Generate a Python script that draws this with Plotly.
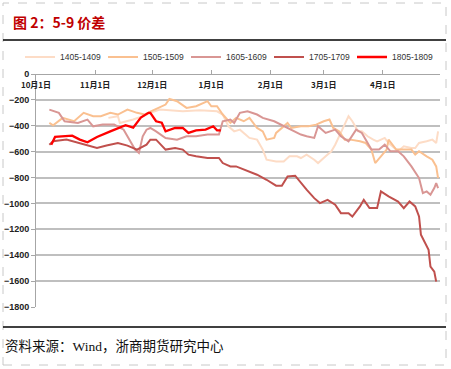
import plotly.graph_objects as go

series_names = ["1405-1409", "1505-1509", "1605-1609", "1705-1709", "1805-1809"]
series_colors = ["#fddcc6", "#fac090", "#d99694", "#c0504d", "#ff0000"]

d1405 = ["2018-11-08","2018-11-13","2018-11-14","2018-11-21","2018-11-26","2018-11-30","2018-12-05","2018-12-10",
         "2018-12-17","2018-12-26","2019-01-04","2019-01-07","2019-01-10","2019-01-13","2019-01-16","2019-01-21",
         "2019-01-25","2019-01-28","2019-01-30","2019-02-04","2019-02-08","2019-02-11","2019-02-15","2019-02-17",
         "2019-02-20","2019-02-24","2019-02-26","2019-03-02","2019-03-05","2019-03-07","2019-03-09","2019-03-12",
         "2019-03-14","2019-03-16","2019-03-19","2019-03-21","2019-03-24","2019-03-27","2019-03-29","2019-04-02",
         "2019-04-04","2019-04-08","2019-04-09","2019-04-12","2019-04-16","2019-04-18","2019-04-20","2019-04-24",
         "2019-04-27","2019-04-29","2019-04-30"]
v1405 = [-339,-326,-378,-352,-326,-300,-275,-280,-288,-280,-288,-313,-404,-443,-430,-494,
         -507,-584,-662,-675,-675,-636,-636,-649,-623,-662,-688,-636,-597,-546,-481,-391,
         -326,-365,-443,-443,-481,-507,-520,-494,-533,-584,-597,-559,-572,-572,-533,-520,
         -507,-533,-443]

d1505 = ["2018-10-08","2018-10-10","2018-10-15","2018-10-21","2018-10-26","2018-10-31","2018-11-04","2018-11-09",
         "2018-11-13","2018-11-18","2018-11-23","2018-11-27","2018-11-30","2018-12-04","2018-12-08","2018-12-10",
         "2018-12-14","2018-12-19","2018-12-24","2018-12-30","2019-01-01","2019-01-04","2019-01-07","2019-01-11",
         "2019-01-14","2019-01-18","2019-01-21","2019-01-25","2019-01-28","2019-01-30","2019-02-03","2019-02-04",
         "2019-02-08","2019-02-10","2019-02-12","2019-02-17","2019-02-21","2019-02-25","2019-03-01","2019-03-04",
         "2019-03-06","2019-03-09","2019-03-12","2019-03-15","2019-03-20","2019-03-23","2019-03-26","2019-03-28",
         "2019-03-31","2019-04-03","2019-04-04","2019-04-08","2019-04-12","2019-04-16","2019-04-18","2019-04-20",
         "2019-04-24","2019-04-27","2019-04-29","2019-04-30"]
v1505 = [-378,-396,-339,-365,-300,-326,-326,-300,-313,-275,-300,-313,-290,-262,-236,-192,
         -210,-262,-249,-210,-249,-249,-313,-378,-339,-365,-339,-417,-443,-507,-494,-455,
         -404,-378,-417,-404,-404,-391,-365,-352,-417,-443,-507,-507,-520,-533,-584,-688,
         -636,-584,-507,-584,-584,-584,-623,-597,-636,-662,-714,-804]

d1605 = ["2018-10-08","2018-10-13","2018-10-16","2018-10-23","2018-10-28","2018-10-31","2018-11-05","2018-11-11",
         "2018-11-16","2018-11-19","2018-11-22","2018-11-24","2018-11-26","2018-11-28","2018-11-30","2018-12-03",
         "2018-12-08","2018-12-14","2018-12-19","2018-12-24","2018-12-30","2019-01-05","2019-01-07","2019-01-11",
         "2019-01-13","2019-01-16","2019-01-20","2019-01-25","2019-01-28","2019-02-03","2019-02-08","2019-02-13",
         "2019-02-17","2019-02-20","2019-02-24","2019-02-26","2019-03-02","2019-03-07","2019-03-10","2019-03-14",
         "2019-03-18","2019-03-21","2019-03-26","2019-03-30","2019-04-02","2019-04-05","2019-04-09","2019-04-12",
         "2019-04-16","2019-04-20","2019-04-22","2019-04-24","2019-04-26","2019-04-28","2019-04-29","2019-04-30"]
v1605 = [-275,-300,-365,-378,-352,-404,-391,-391,-430,-507,-584,-610,-481,-430,-417,-443,
         -494,-507,-481,-481,-468,-468,-365,-352,-378,-300,-288,-313,-339,-365,-404,-443,
         -468,-481,-494,-404,-455,-430,-481,-520,-430,-455,-584,-584,-546,-597,-597,-636,
         -714,-804,-920,-907,-933,-881,-843,-881]

d1705 = ["2018-10-08","2018-10-10","2018-10-17","2018-10-23","2018-10-28","2018-11-02","2018-11-07","2018-11-13",
         "2018-11-18","2018-11-23","2018-11-28","2018-11-30","2018-12-03","2018-12-08","2018-12-13","2018-12-17",
         "2018-12-20","2018-12-24","2018-12-30","2019-01-05","2019-01-07","2019-01-11","2019-01-14","2019-01-20",
         "2019-01-25","2019-01-30","2019-02-04","2019-02-07","2019-02-10","2019-02-14","2019-02-17","2019-02-20",
         "2019-02-24","2019-02-27","2019-03-03","2019-03-07","2019-03-10","2019-03-14","2019-03-16","2019-03-20",
         "2019-03-22","2019-03-25","2019-03-29","2019-03-31","2019-04-04","2019-04-09","2019-04-12","2019-04-15",
         "2019-04-18","2019-04-20","2019-04-21","2019-04-25","2019-04-26","2019-04-28","2019-04-29"]
v1705 = [-546,-520,-507,-533,-553,-572,-553,-533,-553,-584,-546,-507,-507,-584,-572,-584,
         -623,-636,-649,-649,-688,-714,-714,-752,-778,-817,-863,-863,-791,-786,-843,-894,
         -959,-997,-972,-1010,-1075,-1075,-1101,-1023,-972,-1036,-1036,-907,-946,-985,-1036,-985,
         -1023,-1101,-1242,-1358,-1488,-1527,-1604]

d1805 = ["2018-10-09","2018-10-11","2018-10-20","2018-10-24","2018-10-28","2018-11-02","2018-11-09","2018-11-17",
         "2018-11-21","2018-11-25","2018-11-29","2018-11-30","2018-12-03","2018-12-06","2018-12-08","2018-12-13",
         "2018-12-17","2018-12-20","2018-12-24","2018-12-29","2019-01-02","2019-01-04","2019-01-06"]
v1805 = [-546,-486,-476,-507,-528,-486,-443,-396,-414,-337,-300,-300,-365,-376,-443,-417,
         -417,-455,-435,-430,-404,-435,-435]

x_tickvals = ["2018-10-01","2018-11-01","2018-12-01","2019-01-01","2019-02-01","2019-03-01","2019-04-01"]
x_ticktext = ["10月1日","11月1日","12月1日","1月1日","2月1日","3月1日","4月1日"]
y_tickvals = [0,-200,-400,-600,-800,-1000,-1200,-1400,-1600,-1800]

title_text = "图 2：5-9 价差"
source_text = "资料来源：Wind，浙商期货研究中心"

all_dates = [d1405, d1505, d1605, d1705, d1805]
all_vals = [v1405, v1505, v1605, v1705, v1805]

fig = go.Figure()
for name, color, xs, ys in zip(series_names, series_colors, all_dates, all_vals):
    fig.add_trace(go.Scatter(x=xs, y=ys, mode="lines", name=name, hoverinfo="skip",
                             line=dict(color=color, width=2.3 if name == "1805-1809" else 2)))

W, H = 451, 369
ml, mr, mt, mb = 36, 11, 74, 62
pw, ph = W - ml - mr, H - mt - mb

def px(xp):
    return (xp - ml) / pw

def py(yp):
    return (H - mb - yp) / ph

fig.update_layout(
    width=W, height=H,
    margin=dict(l=ml, r=mr, t=mt, b=mb, autoexpand=False),
    paper_bgcolor="white", plot_bgcolor="white",
    font=dict(family="Liberation Sans, Arial, sans-serif", size=9, color="#222222"),
    showlegend=True,
    legend=dict(orientation="h", x=px(20), xanchor="left", y=py(57), yanchor="middle",
                font=dict(size=8.5, color="#333333"), itemwidth=30, entrywidth=38,
                entrywidthmode="pixels", tracegroupgap=0,
                bgcolor="rgba(0,0,0,0)"),
    xaxis=dict(type="date", range=["2018-10-01", "2019-05-01"], side="bottom",
               anchor="free", position=1, automargin=False,
               tickvals=x_tickvals, ticktext=x_ticktext, ticks="inside", ticklen=4,
               tickcolor="#a6a6a6", ticklabelstandoff=3,
               tickfont=dict(family="Noto Sans CJK SC", size=8, color="#222222", weight="bold"),
               showline=True, linecolor="#a6a6a6", linewidth=1, showgrid=False, zeroline=False),
    yaxis=dict(range=[-1800, 0], tickvals=y_tickvals, ticks="outside", ticklen=4, automargin=False,
               tickcolor="#a6a6a6", showline=True, linecolor="#a6a6a6", linewidth=1,
               showgrid=True, gridcolor="#bfbfbf", gridwidth=1.5, zeroline=False,
               tickfont=dict(family="Liberation Sans", size=9, color="#222222", weight="bold")),
    shapes=[
        dict(type="rect", xref="paper", yref="paper", x0=px(3), x1=px(446), y0=py(365), y1=py(3),
             line=dict(color="#c8c8c8", width=1, dash="dash"), layer="below"),
        dict(type="line", xref="paper", yref="paper", x0=px(3), x1=px(446), y0=py(40), y1=py(40),
             line=dict(color="black", width=1.5)),
        dict(type="line", xref="paper", yref="paper", x0=px(3), x1=px(446), y0=py(327), y1=py(327),
             line=dict(color="black", width=1.5)),
    ],
    annotations=[
        dict(text=title_text, xref="paper", yref="paper", x=px(11), y=py(22), xanchor="left",
             yanchor="middle", showarrow=False,
             font=dict(family="Noto Sans CJK SC", size=14, color="#c00000", weight="bold")),
        dict(text=source_text, xref="paper", yref="paper", x=px(3), y=py(346), xanchor="left",
             yanchor="middle", showarrow=False,
             font=dict(family="Liberation Serif, Noto Sans CJK SC", size=13.5, color="#111111")),
    ],
)

fig.write_html("out.html", config={"displayModeBar": False},
               post_script="document.body.style.margin='0px';")
